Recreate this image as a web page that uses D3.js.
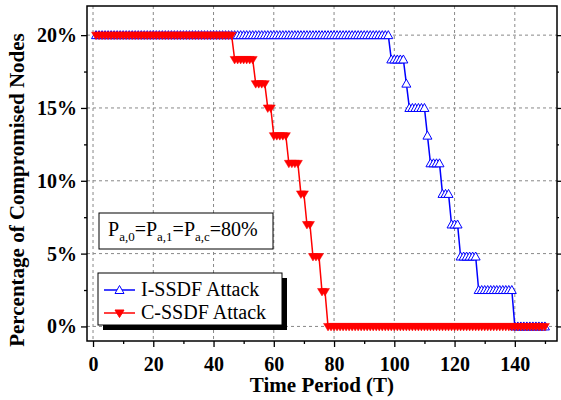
<!DOCTYPE html>
<html>
  <head>
    <style>
      body { margin: 0; background: #fff; }
      text { font-family: "Liberation Serif", "Times New Roman", serif; }
      .tick text { font-weight: bold; font-size: 20px; font-family: "Liberation Serif", serif; }
    </style>
  </head>
  <body>
    <script src="https://cdn.jsdelivr.net/npm/d3@7"></script>
    <script>
      // step runs: first time period of each run and its level (%)
      var blueRunStart = [1, 99, 104, 105, 111, 112, 116, 119, 122, 128, 140];
      var blueRunLevel = [20, 18.33, 16.67, 15, 13.1, 11.2, 9.1, 7.0, 4.8, 2.5, 0];
      var redRunStart = [1, 47, 54, 58, 60, 65, 69, 71, 73, 76, 78];
      var redRunLevel = [20, 18.33, 16.67, 15, 13.1, 11.2, 9.1, 7.0, 4.8, 2.4, 0];
      var lastPeriod = 150;

      var xMajor = [0, 20, 40, 60, 80, 100, 120, 140];
      var xMinor = [10, 30, 50, 70, 90, 110, 130, 150];
      var yMajor = [0, 5, 10, 15, 20];
      var yMinor = [2.5, 7.5, 12.5, 17.5];

      var seriesNames = ["I-SSDF Attack", "C-SSDF Attack"];

      var W = 561, H = 400;
      var pLeft = 87, pRight = 557, pTop = 6, pBottom = 341;

      function expand(starts, levels) {
        var pts = [];
        for (var t = 1; t <= lastPeriod; t++) {
          var k = 0;
          while (k + 1 < starts.length && starts[k + 1] <= t) k++;
          pts.push({ t: t, v: levels[k] });
        }
        return pts;
      }
      var blue = expand(blueRunStart, blueRunLevel);
      var red = expand(redRunStart, redRunLevel);

      var svg = d3.select("body").append("svg")
          .attr("width", W)
          .attr("height", H);

      var x = d3.scaleLinear().domain([-2, 154]).range([pLeft, pRight]);
      var y = d3.scaleLinear().domain([-1, 22]).range([pBottom, pTop]);

      // grid
      var grid = svg.append("g")
          .attr("stroke", "#888")
          .attr("stroke-width", 1)
          .attr("stroke-dasharray", "3,3");
      grid.selectAll(".gx").data(xMajor).enter().append("line")
          .attr("x1", function (d) { return x(d); })
          .attr("x2", function (d) { return x(d); })
          .attr("y1", pTop).attr("y2", pBottom);
      grid.selectAll(".gy").data(yMajor).enter().append("line")
          .attr("y1", function (d) { return y(d); })
          .attr("y2", function (d) { return y(d); })
          .attr("x1", pLeft).attr("x2", pRight);

      var line = d3.line()
          .x(function (d) { return x(d.t); })
          .y(function (d) { return y(d.v); });

      var upTri = "M0,-4.5L4.5,3.5L-4.5,3.5Z";
      var downTri = "M-4.5,-3L4.5,-3L0,4.5Z";

      svg.append("path").datum(blue)
          .attr("d", line)
          .attr("fill", "none")
          .attr("stroke", "#0000ff")
          .attr("stroke-width", 1.5);
      svg.append("g").selectAll("path").data(blue).enter().append("path")
          .attr("d", upTri)
          .attr("transform", function (d) { return "translate(" + x(d.t) + "," + y(d.v) + ")"; })
          .attr("fill", "#fff")
          .attr("stroke", "#0000ff")
          .attr("stroke-width", 1);

      svg.append("path").datum(red)
          .attr("d", line)
          .attr("fill", "none")
          .attr("stroke", "#ff0000")
          .attr("stroke-width", 1.5);
      svg.append("g").selectAll("path").data(red).enter().append("path")
          .attr("d", downTri)
          .attr("transform", function (d) { return "translate(" + x(d.t) + "," + y(d.v) + ")"; })
          .attr("fill", "#ff0000")
          .attr("stroke", "#ff0000")
          .attr("stroke-width", 0.5);

      // axes
      svg.append("g")
          .attr("transform", "translate(0," + pBottom + ")")
          .call(d3.axisBottom(x).tickValues(xMajor).tickSize(6).tickPadding(10))
          .call(function (g) { g.select(".domain").remove(); });
      svg.append("g")
          .attr("transform", "translate(0," + pBottom + ")")
          .call(d3.axisBottom(x).tickValues(xMinor).tickSize(3).tickFormat(""))
          .call(function (g) { g.select(".domain").remove(); });
      svg.append("g")
          .attr("transform", "translate(" + pLeft + ",0)")
          .call(d3.axisLeft(y).tickValues(yMajor).tickSize(6).tickPadding(4)
            .tickFormat(function (d) { return d + "%"; }))
          .call(function (g) { g.select(".domain").remove(); });
      svg.append("g")
          .attr("transform", "translate(" + pLeft + ",0)")
          .call(d3.axisLeft(y).tickValues(yMinor).tickSize(3).tickFormat(""))
          .call(function (g) { g.select(".domain").remove(); });
      svg.append("g")
          .attr("transform", "translate(" + pRight + ",0)")
          .call(d3.axisRight(y).tickValues(yMajor).tickSize(4).tickFormat(""))
          .call(function (g) { g.select(".domain").remove(); });
      svg.append("g")
          .attr("transform", "translate(" + pRight + ",0)")
          .call(d3.axisRight(y).tickValues(yMinor).tickSize(2).tickFormat(""))
          .call(function (g) { g.select(".domain").remove(); });
      svg.selectAll(".tick line").attr("stroke-width", 1.3);

      svg.append("rect")
          .attr("x", pLeft).attr("y", pTop)
          .attr("width", pRight - pLeft).attr("height", pBottom - pTop)
          .attr("fill", "none")
          .attr("stroke", "#000")
          .attr("stroke-width", 1.5);

      // titles
      svg.append("text")
          .attr("x", (pLeft + pRight) / 2)
          .attr("y", 392)
          .attr("text-anchor", "middle")
          .attr("font-weight", "bold")
          .attr("font-size", 21)
          .text("Time Period (T)");
      svg.append("text")
          .attr("transform", "translate(24,190) rotate(-90)")
          .attr("text-anchor", "middle")
          .attr("font-weight", "bold")
          .attr("font-size", 21)
          .text("Percentage of Compromised Nodes");

      // annotation box
      svg.append("rect")
          .attr("x", 99).attr("y", 213).attr("width", 174).attr("height", 36)
          .attr("fill", "#fff").attr("stroke", "#000").attr("stroke-width", 1);
      var ann = svg.append("text")
          .attr("x", 108).attr("y", 236)
          .attr("font-size", 20);
      [["P", "a,0", "="], ["P", "a,1", "="], ["P", "a,c", "=80%"]].forEach(function (p) {
        ann.append("tspan").text(p[0]);
        ann.append("tspan").attr("dy", 5).attr("font-size", 13).text(p[1]);
        ann.append("tspan").attr("dy", -5).text(p[2]);
      });

      // legend
      var lg = svg.append("g");
      lg.append("rect")
          .attr("x", 103).attr("y", 278).attr("width", 184).attr("height", 52)
          .attr("fill", "#000");
      lg.append("rect")
          .attr("x", 98).attr("y", 273).attr("width", 184).attr("height", 52)
          .attr("fill", "#fff").attr("stroke", "#000").attr("stroke-width", 1);
      var rows = [
        { name: seriesNames[0], color: "#0000ff", sym: upTri, fill: "#fff", yy: 290 },
        { name: seriesNames[1], color: "#ff0000", sym: downTri, fill: "#ff0000", yy: 313 }
      ];
      rows.forEach(function (r) {
        lg.append("line")
            .attr("x1", 104).attr("x2", 135)
            .attr("y1", r.yy).attr("y2", r.yy)
            .attr("stroke", r.color).attr("stroke-width", 1.5);
        lg.append("path")
            .attr("d", r.sym)
            .attr("transform", "translate(119.5," + r.yy + ")")
            .attr("fill", r.fill).attr("stroke", r.color);
        lg.append("text")
            .attr("x", 141).attr("y", r.yy + 6)
            .attr("font-size", 20)
            .text(r.name);
      });
    </script>
  </body>
</html>
